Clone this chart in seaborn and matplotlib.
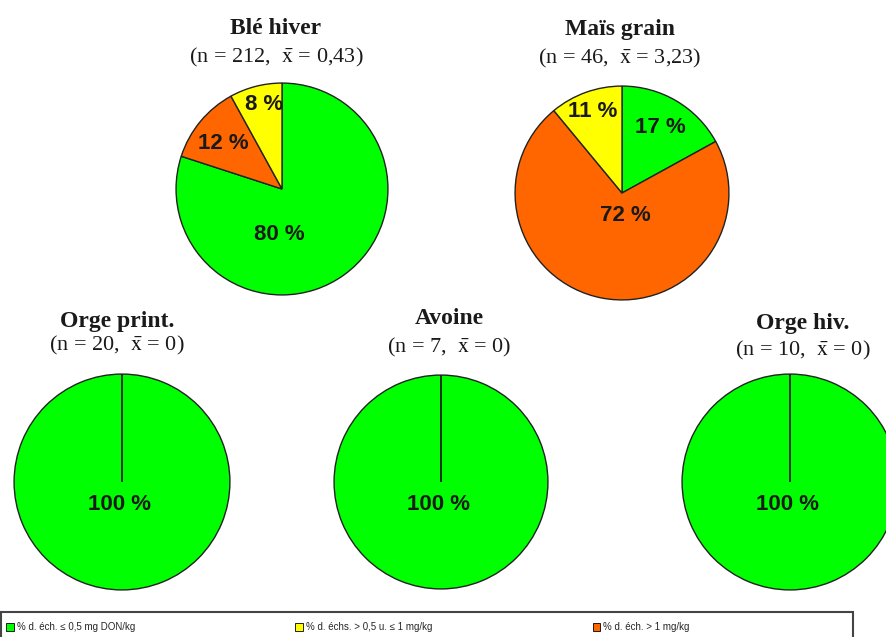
import matplotlib
matplotlib.use("Agg")
import matplotlib.pyplot as plt
import matplotlib.patches as mpatches
import seaborn as sns

# Data: share of samples per DON class, per crop
crops = ["Blé hiver", "Maïs grain", "Orge print.", "Avoine", "Orge hiv."]
n_samples = [212, 46, 20, 7, 10]
mean_don = ["0,43", "3,23", "0", "0", "0"]
pct_low = [80, 17, 100, 100, 100]   # <= 0,5 mg/kg
pct_high = [12, 72, 0, 0, 0]        # > 1 mg/kg
pct_mid = [8, 11, 0, 0, 0]          # > 0,5 and <= 1 mg/kg
legend_labels = [
    "% d. éch. ≤ 0,5 mg DON/kg",
    "% d. échs. > 0,5 u. ≤ 1 mg/kg",
    "% d. éch. > 1 mg/kg",
]

sns.set_theme(style="white")
plt.rcParams["mathtext.fontset"] = "stix"

GREEN, ORANGE, YELLOW = "#00ff00", "#ff6600", "#ffff00"
W, H = 887, 637

# layout in pixels (centre x, centre y, radius)
pie_pos = [(282, 189, 107), (622, 193, 108), (122, 482, 109), (441, 482, 108), (790, 482, 109)]
title_pos = [(276, 28, 57), (620, 30, 58), (117, 321, 345), (449, 319, 347), (803, 324, 350)]
# label offsets (dx, dy) in radius units: green, orange, yellow
label_off = [
    [(-0.03, -0.43), (-0.55, 0.43), (-0.17, 0.80)],
    [(0.36, 0.61), (0.03, -0.21), (-0.27, 0.76)],
    [(-0.02, -0.21), None, None],
    [(-0.02, -0.21), None, None],
    [(-0.02, -0.21), None, None],
]

fig = plt.figure(figsize=(W / 100, H / 100), dpi=100)
fig.patch.set_facecolor("white")

serif = ["Liberation Serif", "DejaVu Serif"]
sans = ["Liberation Sans", "DejaVu Sans"]

for i, crop in enumerate(crops):
    cx, cy, r = pie_pos[i]
    ax = fig.add_axes([(cx - r) / W, 1 - (cy + r) / H, 2 * r / W, 2 * r / H])
    vals = [pct_low[i], pct_high[i], pct_mid[i]]
    ax.pie(
        vals,
        colors=[GREEN, ORANGE, YELLOW],
        startangle=90,
        counterclock=False,
        radius=1,
        wedgeprops=dict(edgecolor="#222222", linewidth=1.0),
    )
    for v, off in zip(vals, label_off[i]):
        if v > 0 and off is not None:
            ax.text(off[0], off[1], f"{v} %", ha="center", va="center",
                    fontsize=16, fontweight="bold", family=sans, color="#1a1a1a")
    ax.set_xlim(-1.01, 1.01)
    ax.set_ylim(-1.01, 1.01)
    ax.axis("off")

    tx, ty, sy = title_pos[i]
    fig.text(tx / W, 1 - ty / H, crop, ha="center", va="center",
             fontsize=17, fontweight="bold", family=serif, color="#1a1a1a")
    fig.text(tx / W, 1 - sy / H,
             f"(n = {n_samples[i]},  " + r"$\bar{\mathrm{x}}$" + f" = {mean_don[i]})",
             ha="center", va="center", fontsize=16, family=serif, color="#1a1a1a")

# legend box running off the bottom edge
fig.patches.append(mpatches.Rectangle(
    (1 / W, -0.05), 852 / W, 0.05 + 1 - 612 / H, transform=fig.transFigure,
    facecolor="white", edgecolor="#444444", linewidth=1.5, figure=fig))

handles = [mpatches.Patch(facecolor=c, edgecolor="black", linewidth=0.6)
           for c in [GREEN, YELLOW, ORANGE]]
leg = fig.legend(
    handles, legend_labels, ncol=3, loc="center left",
    bbox_to_anchor=(0.0, 1 - 627 / H), frameon=False,
    handlelength=0.8, handleheight=0.9, handletextpad=0.3,
    columnspacing=16.5, borderaxespad=0.2,
    prop={"family": sans, "size": 7},
)

fig.savefig("out.png", dpi=100)
